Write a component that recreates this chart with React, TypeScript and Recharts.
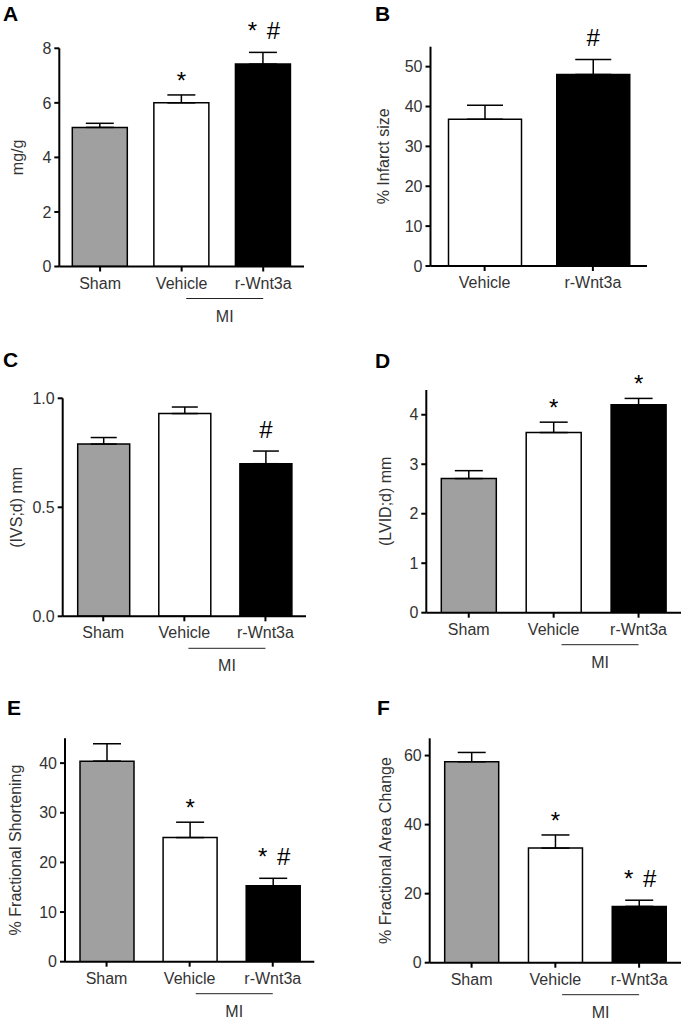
import React from 'react';
import { BarChart, Bar, XAxis, YAxis, ErrorBar, Cell, LabelList } from 'recharts';

const groups3 = ['Sham', 'Vehicle', 'r-Wnt3a'];
const groups2 = ['Vehicle', 'r-Wnt3a'];
const fills3 = ['#a0a0a0', '#ffffff', '#000000'];
const fills2 = ['#ffffff', '#000000'];

// A: heart weight (mg/g)
const heartWeight = [5.1, 6.0, 7.42];
const heartWeightSem = [0.15, 0.29, 0.43];
const heartWeightMarks = ['', '*', '* #'];
const heartWeightTicks = [0, 2, 4, 6, 8];

// B: infarct size (%)
const infarctSize = [36.8, 48.0];
const infarctSizeSem = [3.5, 3.8];
const infarctSizeMarks = ['', '#'];
const infarctSizeTicks = [0, 10, 20, 30, 40, 50];

// C: IVS;d (mm)
const ivsd = [0.79, 0.93, 0.7];
const ivsdSem = [0.03, 0.03, 0.058];
const ivsdMarks = ['', '', '#'];
const ivsdTicks = [0, 0.5, 1.0];

// D: LVID;d (mm)
const lvidd = [2.71, 3.64, 4.2];
const lviddSem = [0.16, 0.21, 0.13];
const lviddMarks = ['', '*', '*'];
const lviddTicks = [0, 1, 2, 3, 4];

// E: fractional shortening (%)
const fracShort = [40.4, 25.0, 15.3];
const fracShortSem = [3.5, 3.1, 1.5];
const fracShortMarks = ['', '*', '* #'];
const fracShortTicks = [0, 10, 20, 30, 40];

// F: fractional area change (%)
const areaChange = [58.2, 33.2, 16.3];
const areaChangeSem = [2.7, 3.8, 1.8];
const areaChangeMarks = ['', '*', '* #'];
const areaChangeTicks = [0, 20, 40, 60];

const FONT = 'Arial, "Liberation Sans", Helvetica, sans-serif';
const TEXT = '#333';
const W = 342;
const H = 340;
const YW = 36;
const XH = 20;

type Row = { group: string; value: number; err: [number, number]; sem: number; mark: string };

interface PanelProps {
  letter: string;
  letterPos: [number, number];
  yLabel: string;
  labelDist: number;
  left: number;
  top: number;
  plot: { l: number; r: number; t: number; b: number };
  yMax: number;
  ticks: number[];
  decimals?: number;
  groups: string[];
  values: number[];
  sems: number[];
  marks: string[];
  fills: string[];
  barSize: number;
  cap: number;
  mi: boolean;
}

function GroupTick(props: any) {
  const { x, y, payload, index, mi, last } = props;
  return (
    <g>
      <text x={x} y={y + 15} textAnchor="middle" fill={TEXT} fontSize={16} fontFamily={FONT}>
        {payload.value}
      </text>
      {mi && index === last && (
        <g>
          <line x1={x - 77} x2={x} y1={y + 25} y2={y + 25} stroke="#222" strokeWidth={1} />
          <text x={x - 38.5} y={y + 48} textAnchor="middle" fill={TEXT} fontSize={16} fontFamily={FONT}>
            MI
          </text>
        </g>
      )}
    </g>
  );
}

const markRenderer = (rows: Row[]) => (props: any) => {
  const row = rows[props.index];
  if (!row || !row.mark) return null;
  const vb = props.viewBox ?? props;
  const x = vb.x ?? props.x;
  const y = vb.y ?? props.y;
  const w = vb.width ?? props.width;
  const h = vb.height ?? props.height;
  const errTop = y - (row.sem * h) / row.value;
  const cx = x + w / 2;
  const parts = row.mark.split(' ');
  const base = errTop - (row.mark.includes('#') ? 13 : 6);
  return (
    <g>
      {parts.map((s, k) => (
        <text
          key={k}
          x={cx + (k - (parts.length - 1) / 2) * 21}
          y={base}
          textAnchor="middle"
          fontSize={24}
          fill="#000"
          fontFamily={FONT}
        >
          {s}
        </text>
      ))}
    </g>
  );
};

function Panel(p: PanelProps) {
  const rows: Row[] = p.groups.map((g, i) => ({
    group: g,
    value: p.values[i],
    err: [0, p.sems[i]],
    sem: p.sems[i],
    mark: p.marks[i],
  }));
  const margin = {
    top: p.plot.t - p.top,
    left: p.plot.l - p.left - YW,
    right: p.left + W - p.plot.r,
    bottom: p.top + H - p.plot.b - XH,
  };
  const labelX = p.plot.l - p.labelDist - p.left;
  const labelY = (p.plot.t + p.plot.b) / 2 - p.top;
  const axisStyle = { stroke: '#000', strokeWidth: 2 };

  return (
    <div style={{ position: 'absolute', left: p.left, top: p.top, width: W, height: H }}>
      <BarChart width={W} height={H} data={rows} margin={margin}>
        <XAxis
          dataKey="group"
          height={XH}
          interval={0}
          tickSize={5}
          axisLine={axisStyle}
          tickLine={axisStyle}
          tick={<GroupTick mi={p.mi} last={p.groups.length - 1} />}
        />
        <YAxis
          width={YW}
          domain={[0, p.yMax]}
          ticks={p.ticks}
          allowDataOverflow
          tickSize={5}
          tickMargin={3}
          axisLine={axisStyle}
          tickLine={axisStyle}
          tickFormatter={(v: number) => (p.decimals ? v.toFixed(p.decimals) : String(v))}
          tick={{ fill: TEXT, fontSize: 16, fontFamily: FONT }}
        />
        <Bar dataKey="value" barSize={p.barSize} stroke="#000" strokeWidth={1.5} isAnimationActive={false}>
          {rows.map((r, i) => (
            <Cell key={r.group} fill={p.fills[i]} />
          ))}
          <ErrorBar dataKey="err" direction="y" width={p.cap} stroke="#000" strokeWidth={1.5} isAnimationActive={false} />
          <LabelList dataKey="mark" content={markRenderer(rows)} />
        </Bar>
      </BarChart>
      <svg width={W} height={H} style={{ position: 'absolute', left: 0, top: 0, pointerEvents: 'none' }}>
        <text x={p.letterPos[0] - p.left} y={p.letterPos[1] - p.top} fontSize={21} fontWeight="bold" fill="#000" fontFamily={FONT}>
          {p.letter}
        </text>
        <text
          transform={`translate(${labelX},${labelY}) rotate(-90)`}
          textAnchor="middle"
          dominantBaseline="central"
          fontSize={16}
          fill={TEXT}
          fontFamily={FONT}
        >
          {p.yLabel}
        </text>
      </svg>
    </div>
  );
}

export default function App() {
  return (
    <div style={{ position: 'absolute', left: 0, top: 0, width: 684, height: 1020, background: '#fff', fontFamily: FONT }}>
      <Panel
        letter="A" letterPos={[3, 21]} yLabel="mg/g" labelDist={42}
        left={0} top={0} plot={{ l: 59.3, r: 304, t: 48.3, b: 266.5 }}
        yMax={8} ticks={heartWeightTicks}
        groups={groups3} values={heartWeight} sems={heartWeightSem} marks={heartWeightMarks} fills={fills3}
        barSize={55} cap={14} mi
      />
      <Panel
        letter="B" letterPos={[375, 21]} yLabel="% Infarct size" labelDist={47}
        left={342} top={0} plot={{ l: 430.5, r: 647, t: 46.7, b: 266 }}
        yMax={55} ticks={infarctSizeTicks}
        groups={groups2} values={infarctSize} sems={infarctSizeSem} marks={infarctSizeMarks} fills={fills2}
        barSize={73} cap={18} mi={false}
      />
      <Panel
        letter="C" letterPos={[3, 367]} yLabel="(IVS;d) mm" labelDist={46.7}
        left={0} top={340} plot={{ l: 62.7, r: 306, t: 398.3, b: 616.3 }}
        yMax={1} ticks={ivsdTicks} decimals={1}
        groups={groups3} values={ivsd} sems={ivsdSem} marks={ivsdMarks} fills={fills3}
        barSize={52} cap={13} mi
      />
      <Panel
        letter="D" letterPos={[375, 368]} yLabel="(LVID;d) mm" labelDist={41}
        left={342} top={340} plot={{ l: 426.3, r: 681, t: 390, b: 612.7 }}
        yMax={4.5} ticks={lviddTicks}
        groups={groups3} values={lvidd} sems={lviddSem} marks={lviddMarks} fills={fills3}
        barSize={55} cap={14} mi
      />
      <Panel
        letter="E" letterPos={[7, 715]} yLabel="% Fractional Shortening" labelDist={50}
        left={0} top={680} plot={{ l: 65, r: 314.3, t: 738.3, b: 961.7 }}
        yMax={45} ticks={fracShortTicks}
        groups={groups3} values={fracShort} sems={fracShortSem} marks={fracShortMarks} fills={fills3}
        barSize={54} cap={14} mi
      />
      <Panel
        letter="F" letterPos={[377, 715]} yLabel="% Fractional Area Change" labelDist={44.4}
        left={342} top={680} plot={{ l: 429.7, r: 681, t: 738.3, b: 962.7 }}
        yMax={65} ticks={areaChangeTicks}
        groups={groups3} values={areaChange} sems={areaChangeSem} marks={areaChangeMarks} fills={fills3}
        barSize={54} cap={14} mi
      />
    </div>
  );
}
